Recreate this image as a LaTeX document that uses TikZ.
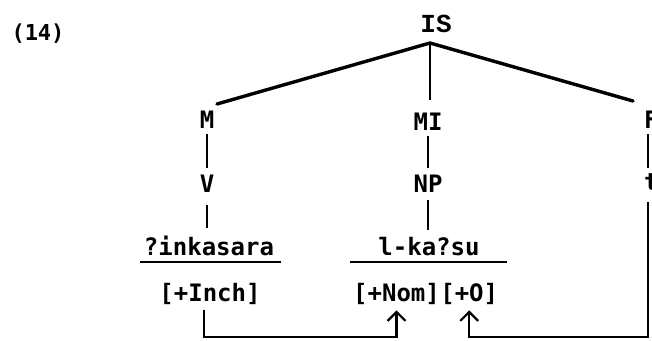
\documentclass[tikz,border=0pt]{standalone}
\usepackage{fontspec}
\setmainfont{DejaVu Sans Mono}
\newfontfamily\isfont{Liberation Mono}
\usetikzlibrary{arrows.meta}
\begin{document}
\begin{tikzpicture}[x=1pt,y=-1pt,
  lab/.style={inner sep=0pt,anchor=base,font=\fontsize{24}{28}\selectfont\bfseries},
  tree/.style={line width=3.4pt,line cap=round},
  bar/.style={line width=2.2pt},
  brk/.style={line width=2.2pt},
  up/.style={-{Straight Barb[length=9pt,width=18pt,line width=2.2pt]}}]
\useasboundingbox (0,0) rectangle (652,340);
\fill[white] (0,0) rectangle (652,340);
% labels
\node[lab,font=\fontsize{22}{26}\selectfont\bfseries] (n14) at (38,40) {(14)};
\node[lab,font=\fontsize{26}{30}\selectfont\isfont\bfseries] (IS) at (436,32) {IS};
\coordinate (apex) at (430,43);
\node[lab] (M) at (207,128) {M};
\node[lab] (MI) at (428,130) {MI};
\node[lab,anchor=base west] (F) at (644,128) {F};
\node[lab] (V) at (207,192) {V};
\node[lab] (NP) at (428,192) {NP};
\node[lab,anchor=base west] (t) at (644,190) {t};
\node[lab] (w1) at (209,255) {?inkasara};
\node[lab] (w2) at (429,255) {l-ka?su};
\node[lab] (inch) at (210,301) {[+Inch]};
\node[lab,anchor=base west] (nom) at (353,301) {[+Nom]};
\node[lab,anchor=base west] (obj) at (nom.base east) {[+O]};
% underlines
\coordinate (u1a) at (140,262); \coordinate (u1b) at (281,262);
\coordinate (u2a) at (350,262); \coordinate (u2b) at (507,262);
\draw[bar] (u1a) -- (u1b);
\draw[bar] (u2a) -- (u2b);
% tree
\coordinate (Mend) at (217,104);
\coordinate (MIend) at (430,100);
\coordinate (Fend) at (633,101);
\draw[tree] (apex) -- (Mend);
\draw[line width=2.4pt] (apex) -- (MIend);
\draw[tree] (apex) -- (Fend);
% short bars
\draw[bar,shorten <=6pt,shorten >=6pt] (M.south) -- (V.north);
\draw[bar,shorten <=6pt,shorten >=6pt] (MI.south) -- (NP.north);
\draw[bar,shorten <=6pt,shorten >=5pt] ([xshift=4pt]F.south west) -- ([xshift=4pt]t.north west);
\draw[bar,shorten <=13pt,shorten >=7pt] (V.south) -- (V.south |- w1.north);
\draw[bar,shorten <=8pt,shorten >=7pt] (NP.south) -- (NP.south |- w2.north);
% bracket connectors
\coordinate (b1) at (204,337);
\coordinate (b2) at (648,337);
\draw[brk,up,line join=miter] ([xshift=-6pt,yshift=-6pt]inch.south) -- (b1) -| ([yshift=-6pt]nom.south);
\draw[brk,up,line join=miter] ([xshift=4pt,yshift=-12pt]t.south west) -- (b2) -| ([yshift=-6pt]obj.south);
\end{tikzpicture}
\end{document}
